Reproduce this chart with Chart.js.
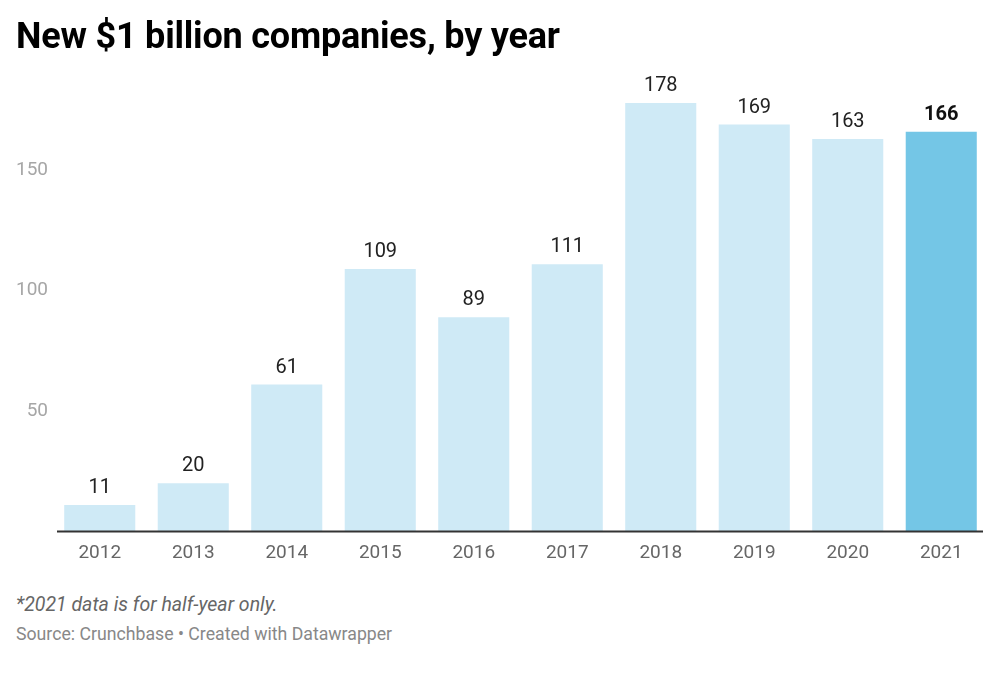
<!DOCTYPE html>
<html>
<head>
<meta charset="utf-8">
<script src="https://cdn.jsdelivr.net/npm/chart.js@4/dist/chart.umd.min.js"></script>
<style>
    body { margin: 0; background: #fff; font-family: Roboto, sans-serif; }
    #wrap { position: relative; width: 1000px; height: 677px; }
    h1 { position: absolute; left: 16px; top: 15px; margin: 0; font-size: 36px; font-weight: 700; color: #000; letter-spacing: -0.2px; }
    #chartBox { position: absolute; left: 0; top: 0; width: 1000px; height: 580px; }
    .note { position: absolute; left: 16px; top: 593px; font-size: 19.5px; font-style: italic; color: #666; }
    .source { position: absolute; left: 16px; top: 624px; font-size: 17.7px; color: #888; }
</style>
</head>
<body>
<div id="wrap">
    <div id="chartBox"><canvas id="chart" width="1000" height="580"></canvas></div>
    <h1>New $1 billion companies, by year</h1>
    <div class="note">*2021 data is for half-year only.</div>
    <div class="source">Source: Crunchbase • Created with Datawrapper</div>
</div>
<script>
const years = ["2012", "2013", "2014", "2015", "2016", "2017", "2018", "2019", "2020", "2021"];
const companies = [11, 20, 61, 109, 89, 111, 178, 169, 163, 166];
const yTicks = [50, 100, 150];

const lightBlue = "#cfeaf6";
const strongBlue = "#74c6e6";

// value labels above each bar
const valueLabels = {
    id: "valueLabels",
    afterDatasetsDraw(chart) {
        let ctx = chart.ctx;
        let meta = chart.getDatasetMeta(0);
        ctx.save();
        ctx.textAlign = "center";
        ctx.textBaseline = "alphabetic";
        meta.data.forEach((bar, i) => {
            let last = i === companies.length - 1;
            ctx.font = (last ? "bold " : "") + "20px Roboto";
            ctx.fillStyle = last ? "#111" : "#222";
            ctx.fillText(companies[i], bar.x, bar.y - 12);
        });
        ctx.restore();
    },
};

// baseline, slightly shorter than the category band
const baseline = {
    id: "baseline",
    afterDatasetsDraw(chart) {
        let ctx = chart.ctx;
        let area = chart.chartArea;
        ctx.save();
        ctx.strokeStyle = "#333";
        ctx.lineWidth = 2;
        ctx.beginPath();
        ctx.moveTo(area.left + 4, area.bottom);
        ctx.lineTo(area.right - 5, area.bottom);
        ctx.stroke();
        ctx.restore();
    },
};

new Chart(document.getElementById("chart"), {
    type: "bar",
    data: {
        labels: years,
        datasets: [
            {
                data: companies,
                backgroundColor: years.map((y, i) => (i === years.length - 1 ? strongBlue : lightBlue)),
                barPercentage: 0.76,
                categoryPercentage: 1,
            },
        ],
    },
    options: {
        responsive: false,
        animation: false,
        layout: {
            padding: { top: 74, right: 12, bottom: 0, left: 0 },
        },
        plugins: {
            legend: { display: false },
            tooltip: { enabled: false },
        },
        scales: {
            x: {
                grid: { display: false, drawTicks: false },
                border: { display: false },
                ticks: {
                    color: "#666",
                    font: { family: "Roboto", size: 19 },
                    padding: 10,
                },
                afterFit: (scale) => {
                    scale.height = 48.5;
                },
            },
            y: {
                min: 0,
                max: 190,
                grid: { display: false, drawTicks: false },
                border: { display: false },
                afterBuildTicks: (scale) => {
                    scale.ticks = yTicks.map((v) => ({ value: v }));
                },
                ticks: {
                    color: "#a6a6a6",
                    font: { family: "Roboto", size: 19 },
                    padding: 5,
                },
                afterFit: (scale) => {
                    scale.width = 53;
                },
            },
        },
    },
    plugins: [valueLabels, baseline],
});
</script>
</body>
</html>
